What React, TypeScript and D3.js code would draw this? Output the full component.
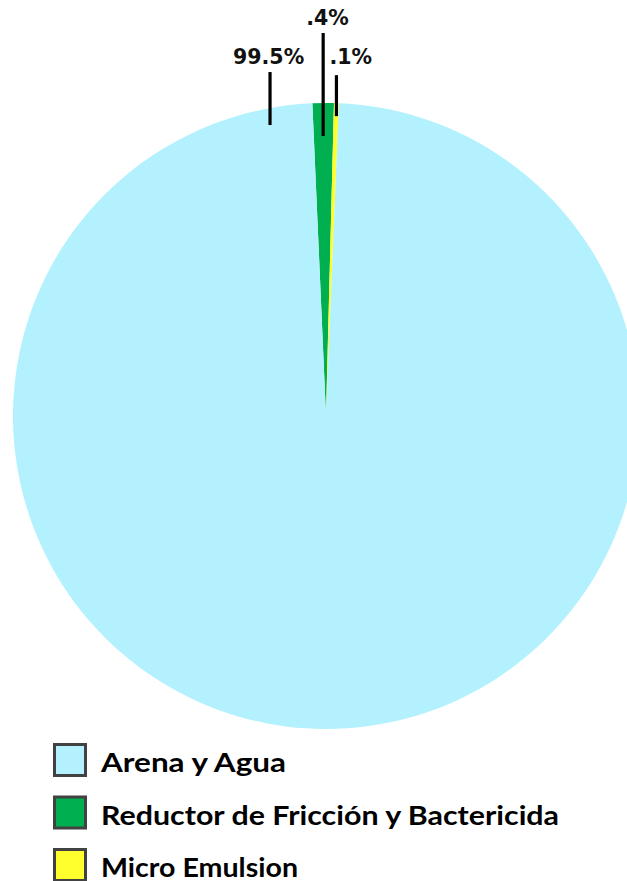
import * as d3 from 'd3';

// legend order
const categories = ['Arena y Agua', 'Reductor de Fricción y Bactericida', 'Micro Emulsion'];
// share of the circle each wedge takes in the drawing
const drawnShares = [98.65, 1.1, 0.25];
// printed labels
const valueLabels = ['99.5%', '.4%', '.1%'];
const colors = ['#b2f1fd', '#00b050', '#ffff2e'];
// wedge order around the circle, clockwise from just left of 12 o'clock
const pieOrder = [1, 2, 0];
// legend text widths as they appear in the reference
const legendTextWidths = [185, 458, 197];

const W = 627;
const H = 881;
const cx = 326;
const cy = 416;
const r = 313;
const startDeg = -2.5;

// label placement per category: angle (deg, null = wedge middle), line into pie, line out of pie, text dx/dy
const labelLayout = [
  { angle: -10.3, inside: 17, outside: 36, tx: -37, ty: -8 },
  { angle: null, inside: 33, outside: 70, tx: -17, ty: -8 },
  { angle: null, inside: 13, outside: 28, tx: -7, ty: -11 },
];

interface Slice {
  i: number;
  share: number;
}

export default function App() {
  const data: Slice[] = pieOrder.map((i) => ({ i, share: drawnShares[i] }));
  const start = (startDeg * Math.PI) / 180;
  const pie = d3
    .pie<Slice>()
    .value((d) => d.share)
    .sort(null)
    .startAngle(start)
    .endAngle(start + 2 * Math.PI);
  const arcs = pie(data);
  const arc = d3.arc<d3.PieArcDatum<Slice>>().innerRadius(0).outerRadius(r);

  const legendY = d3.scaleBand<number>().domain(d3.range(categories.length)).range([743, 900.5]).padding(0);

  return (
    <svg
      width={W}
      height={H}
      style={{ position: 'absolute', left: 0, top: 0, background: '#fff' }}
    >
      <g transform={`translate(${cx},${cy})`}>
        {arcs.map((a) => (
          <path key={a.data.i} d={arc(a) ?? ''} fill={colors[a.data.i]} />
        ))}
        {arcs.map((a) => {
          const L = labelLayout[a.data.i];
          const ang = L.angle === null ? (a.startAngle + a.endAngle) / 2 : (L.angle * Math.PI) / 180;
          const x = Math.sin(ang) * r;
          const yEdge = -Math.cos(ang) * r;
          const y1 = yEdge + L.inside;
          const y2 = yEdge - L.outside;
          return (
            <g key={'l' + a.data.i}>
              <line x1={x} x2={x} y1={y1} y2={y2} stroke="#000" strokeWidth={3.2} />
              <text
                x={x + L.tx}
                y={y2 + L.ty}
                fontFamily="DejaVu Sans"
                fontWeight={700}
                fontSize={20.5}
                fill="#111"
              >
                {valueLabels[a.data.i]}
              </text>
            </g>
          );
        })}
      </g>
      <g>
        {categories.map((c, i) => {
          const y = legendY(i) ?? 0;
          return (
            <g key={c}>
              <rect
                x={54.5}
                y={y + 1.5}
                width={31}
                height={31}
                fill={colors[i]}
                stroke="#424242"
                strokeWidth={3}
              />
              <text
                x={101}
                y={y + 29}
                fontFamily="Lato"
                fontWeight={700}
                fontSize={27}
                fill="#000"
                textLength={legendTextWidths[i]}
                lengthAdjust="spacingAndGlyphs"
              >
                {c}
              </text>
            </g>
          );
        })}
      </g>
    </svg>
  );
}
